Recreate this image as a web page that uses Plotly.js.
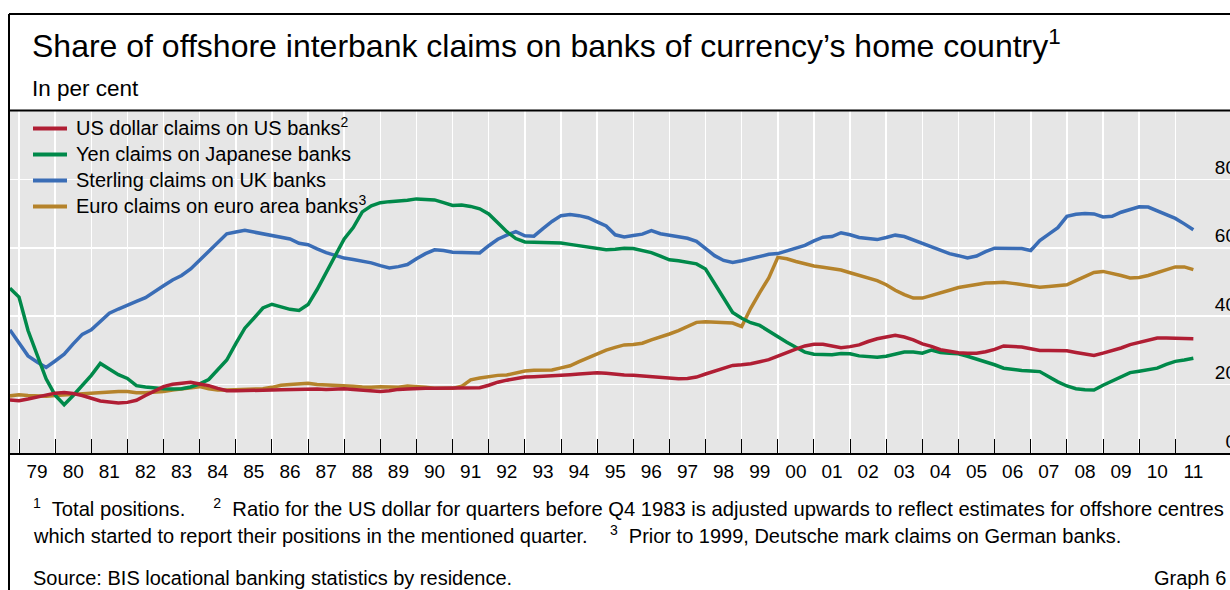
<!DOCTYPE html>
<html>
<head>
<meta charset="utf-8">
<script src="https://cdn.plot.ly/plotly-3.0.1.min.js"></script>
<style>
html,body{margin:0;padding:0;background:#fff;overflow:hidden}
#wrap{width:1230px;height:590px;overflow:hidden;position:relative}
#chart{width:1239px;height:590px}
</style>
</head>
<body>
<div id="wrap"><div id="chart"></div></div>
<script>
// ---- data (quarterly, 1978 Q3 to 2011 Q2, per cent) ----
const firstYear = 1978;
const firstQuarter = 3;

const years = [1979,1980,1981,1982,1983,1984,1985,1986,1987,1988,1989,1990,1991,1992,1993,1994,1995,
  1996,1997,1998,1999,2000,2001,2002,2003,2004,2005,2006,2007,2008,2009,2010,2011];
const yearLabels = ['79','80','81','82','83','84','85','86','87','88','89','90','91','92','93','94','95',
  '96','97','98','99','00','01','02','03','04','05','06','07','08','09','10','11'];
const yTicks = [0,20,40,60,80];

const usdClaims = [
  15.5,15.3,15.8,16.3, 17.0,17.5,17.7,17.4, 16.8,16.0,15.2,14.9, 14.6,14.8,15.4,16.8,
  18.1,19.4,20.1,20.5, 20.7,20.2,19.7,18.9, 18.2,18.2,18.2,18.2, 18.4,18.4,18.5,18.6,
  18.7,18.7,18.7,18.6, 18.8,18.8,18.6,18.4, 18.2,18.0,18.2,18.6, 18.7,18.9,18.9,18.9,
  18.9,18.9,18.9,19.0, 19.1,19.8,20.7,21.3, 21.8,22.2,22.3,22.4, 22.5,22.7,22.9,23.1,
  23.3,23.5,23.3,23.0, 22.8,22.7,22.5,22.3, 22.0,21.7,21.7,21.8, 22.2,23.1,23.9,24.7,
  25.6,25.8,26.1,26.7, 27.3,28.3,29.4,30.4, 31.3,31.8,31.8,31.3, 30.8,31.1,31.6,32.6,
  33.4,33.9,34.4,33.9, 33.1,31.9,31.2,30.2, 29.7,29.3,29.2,29.2, 29.6,30.3,31.3,31.2,
  31.0,30.5,30.0,30.0, 29.9,29.9,29.4,28.9, 28.5,29.2,29.9,30.7, 31.7,32.4,32.9,33.6,
  33.6,33.6,33.5,33.4
];
const yenClaims = [
  48.2,45.6,35.8,28.4, 21.7,16.9,14.1,16.8, 19.8,22.7,26.2,24.5, 22.9,21.8,19.7,19.3,
  19.0,18.8,18.7,18.8, 19.3,20.2,21.5,24.4, 27.2,32.0,36.5,39.4, 42.4,43.5,42.7,42.0,
  41.7,43.4,47.8,52.6, 57.8,62.6,65.9,70.5, 72.3,73.2,73.5,73.6, 73.9,74.3,74.2,74.0,
  73.2,72.4,72.5,72.1, 71.4,69.9,67.3,64.7, 62.7,61.7,61.6,61.5, 61.4,61.4,61.0,60.6,
  60.0,59.7,59.4,59.6, 59.9,59.8,59.3,58.6, 57.6,56.5,56.2,55.8, 55.3,53.8,49.7,45.4,
  41.1,39.4,38.1,37.3, 35.6,34.1,32.4,30.9, 29.5,28.9,28.7,28.7, 29.1,29.0,28.4,28.2,
  28.0,28.3,28.8,29.5, 29.5,29.2,30.1,29.4, 29.2,29.0,28.3,27.5, 26.8,25.8,24.8,24.4,
  24.1,24.0,23.8,22.3, 20.8,19.6,18.8,18.5, 18.4,19.8,21.1,22.4, 23.5,23.9,24.4,24.8,
  25.9,26.8,27.2,27.7
];
const sterlingClaims = [
  36.0,32.1,28.4,26.6, 25.0,26.9,28.9,31.9, 34.7,36.0,38.4,40.9, 42.1,43.3,44.3,45.4,
  47.3,48.9,50.6,51.9, 53.8,56.4,59.1,61.6, 64.1,64.6,65.1,64.6, 64.1,63.6,63.2,62.6,
  61.3,60.9,59.7,58.6, 57.8,57.0,56.6,56.2, 55.6,54.8,54.1,54.5, 55.1,56.8,58.3,59.4,
  59.2,58.7,58.6,58.5, 58.5,60.6,62.5,63.7, 64.7,63.5,63.4,65.6, 67.7,69.4,69.7,69.4,
  68.8,67.6,66.4,63.8, 63.2,63.6,64.0,65.0, 64.1,63.7,63.3,62.8, 61.9,59.7,57.7,56.3,
  55.7,56.2,56.9,57.5, 58.1,58.3,59.1,60.1, 60.7,62.0,63.1,63.3, 64.4,63.8,63.0,62.7,
  62.4,63.0,63.7,63.3, 62.3,61.3,60.5,59.3, 58.3,57.7,57.0,57.6, 58.9,59.9,59.9,59.9,
  59.8,59.2,62.1,64.0, 65.9,69.2,69.8,70.0, 69.9,69.0,69.2,70.4, 71.3,72.0,71.9,70.8,
  69.7,68.6,67.0,65.3
];
const euroClaims = [
  16.7,17.0,16.8,16.6, 16.6,16.8,17.0,17.1, 17.2,17.4,17.7,17.9, 18.0,18.0,17.6,17.6,
  17.7,18.0,18.4,18.7, 19.1,19.4,18.8,18.4, 18.4,18.5,18.6,18.7, 18.8,19.2,19.8,20.0,
  20.2,20.4,20.0,19.9, 19.9,19.7,19.5,19.3, 19.2,19.4,19.3,19.2, 19.6,19.5,19.2,18.9,
  18.9,18.9,19.5,21.4, 21.9,22.4,22.7,22.8, 23.3,24.0,24.2,24.2, 24.3,24.9,25.5,26.7,
  27.9,29.1,30.1,30.9, 31.6,31.7,32.1,33.1, 33.9,34.8,35.8,36.9, 38.2,38.4,38.3,38.2,
  38.0,37.0,42.3,46.9, 51.2,57.2,56.8,56.0, 55.3,54.7,54.3,53.9, 53.5,52.7,51.9,51.1,
  50.4,49.2,47.6,46.3, 45.3,45.3,46.0,46.8, 47.6,48.4,48.9,49.3, 49.7,49.8,49.9,49.6,
  49.3,48.9,48.5,48.7, 49.0,49.2,50.4,51.6, 52.8,53.1,52.6,51.9, 51.2,51.3,51.9,52.8,
  53.7,54.4,54.4,53.6
];

const seriesNames = [
  'US dollar claims on US banks<sup>2</sup>',
  'Yen claims on Japanese banks',
  'Sterling claims on UK banks',
  'Euro claims on euro area banks<sup>3</sup>'
];
const seriesColors = ['#B01E34','#00894A','#3A6DB6','#B5832B'];
const seriesValues = [usdClaims, yenClaims, sterlingClaims, euroClaims];

// quarter positions on the time axis (quarter-end as decimal year)
const quarterPos = usdClaims.map((_, i) => firstYear + (firstQuarter + i) / 4);

const FONT = '"Liberation Sans", Arial, Helvetica, sans-serif';

// draw order: euro, sterling, yen, US dollar (US dollar on top)
const drawOrder = [3, 2, 1, 0];
const traces = drawOrder.map(i => ({
  type: 'scatter', mode: 'lines', x: quarterPos, y: seriesValues[i],
  name: seriesNames[i], showlegend: false,
  line: {color: seriesColors[i], width: 3.5}, hoverinfo: 'skip'
}));

// layout geometry helpers (pixels -> paper)
const W = 1239, H = 590, ML = 10, MT = 111, MB = 137;
const PW = W - ML, PH = H - MT - MB;
const px = x => (x - ML) / PW;
const py = y => (H - MB - y) / PH;

// legend (drawn as key lines + labels)
const legendShapes = seriesNames.map((n, i) => ({
  type: 'line', xref: 'paper', yref: 'paper',
  x0: px(33), x1: px(67), y0: py(128.5 + 26 * i), y1: py(128.5 + 26 * i),
  line: {color: seriesColors[i], width: 4}
}));
const legendLabels = seriesNames.map((n, i) => ({
  xref: 'paper', yref: 'paper', x: px(74), y: py(128 + 26 * i - (n.indexOf('<sup>') >= 0 ? 2 : 0)),
  xanchor: 'left', yanchor: 'middle', showarrow: false, text: n,
  font: {family: FONT, size: 20, color: '#000'}
}));

const layout = {
  width: W, height: H,
  margin: {l: ML, r: 0, t: MT, b: MB, pad: 0},
  paper_bgcolor: '#ffffff',
  plot_bgcolor: '#e6e6e6',
  font: {family: FONT, size: 19, color: '#000'},
  showlegend: false,
  xaxis: {
    range: [1978.751, 1978.751 + PW / 36.134],
    tickmode: 'array',
    tickvals: years.map(y => y + 0.5),
    ticktext: yearLabels,
    ticks: '', showgrid: false, zeroline: false,
    showline: true, linecolor: '#000', linewidth: 2,
    tickfont: {family: FONT, size: 19, color: '#000'},
    minor: {
      tickmode: 'array', tickvals: years,
      ticks: 'inside', ticklen: 14, tickwidth: 1, tickcolor: '#000',
      showgrid: true, gridcolor: '#ffffff', gridwidth: 1.5
    },
    fixedrange: true
  },
  yaxis: {
    range: [0, 100], side: 'right',
    tickmode: 'array', tickvals: yTicks,
    ticks: '', ticklabelposition: 'inside', ticklabelshift: -12,
    showgrid: true, gridcolor: '#ffffff', gridwidth: 1.5,
    zeroline: false, showline: false,
    tickfont: {family: FONT, size: 19, color: '#000'},
    fixedrange: true
  },
  yaxis2: {
    range: [0, 100], overlaying: 'y', side: 'left', anchor: 'x',
    tickmode: 'array', tickvals: yTicks.filter(v => v > 0),
    ticks: 'inside', ticklen: 3, tickwidth: 1, tickcolor: '#000',
    showticklabels: false, showgrid: false, zeroline: false, showline: false,
    fixedrange: true
  },
  shapes: [
    {type: 'line', xref: 'paper', yref: 'paper', x0: px(9), x1: px(9), y0: py(14), y1: py(600), line: {color: '#000', width: 2}},
    {type: 'line', xref: 'paper', yref: 'paper', x0: px(9), x1: px(W + 5), y0: py(14), y1: py(14), line: {color: '#000', width: 2}},
    {type: 'line', xref: 'paper', yref: 'paper', x0: px(9), x1: px(W + 5), y0: py(110.5), y1: py(110.5), line: {color: '#000', width: 2}}
  ].concat(legendShapes),
  annotations: [
    {xref: 'paper', yref: 'paper', x: px(30), y: py(44), xanchor: 'left', yanchor: 'middle', showarrow: false,
     text: 'Share of offshore interbank claims on banks of currency\u2019s home country<sup>1</sup>',
     font: {family: FONT, size: 32, color: '#000'}},
    {xref: 'paper', yref: 'paper', x: px(30), y: py(88), xanchor: 'left', yanchor: 'middle', showarrow: false,
     text: 'In per cent', font: {family: FONT, size: 22.5, color: '#000'}},
    {xref: 'paper', yref: 'paper', x: px(31), y: py(508), xanchor: 'left', yanchor: 'middle', showarrow: false,
     text: '<sup>1</sup>\u00a0 Total positions.\u00a0\u00a0\u00a0\u00a0 <sup>2</sup>\u00a0\u00a0Ratio for the US dollar for quarters before Q4 1983 is adjusted upwards to reflect estimates for offshore centres',
     font: {family: FONT, size: 20.2, color: '#000'}},
    {xref: 'paper', yref: 'paper', x: px(31), y: py(534), xanchor: 'left', yanchor: 'middle', showarrow: false,
     text: 'which started to report their positions in the mentioned quarter.\u00a0\u00a0\u00a0 <sup>3</sup>\u00a0 Prior to 1999, Deutsche mark claims on German banks.',
     font: {family: FONT, size: 20, color: '#000'}},
    {xref: 'paper', yref: 'paper', x: px(31), y: py(578), xanchor: 'left', yanchor: 'middle', showarrow: false,
     text: 'Source: BIS locational banking statistics by residence.',
     font: {family: FONT, size: 20, color: '#000'}},
    {xref: 'paper', yref: 'paper', x: px(1228), y: py(578), xanchor: 'right', yanchor: 'middle', showarrow: false,
     text: 'Graph 6', font: {family: FONT, size: 20, color: '#000'}}
  ].concat(legendLabels)
};

Plotly.newPlot('chart', traces, layout, {displayModeBar: false, staticPlot: true});
</script>
</body>
</html>
